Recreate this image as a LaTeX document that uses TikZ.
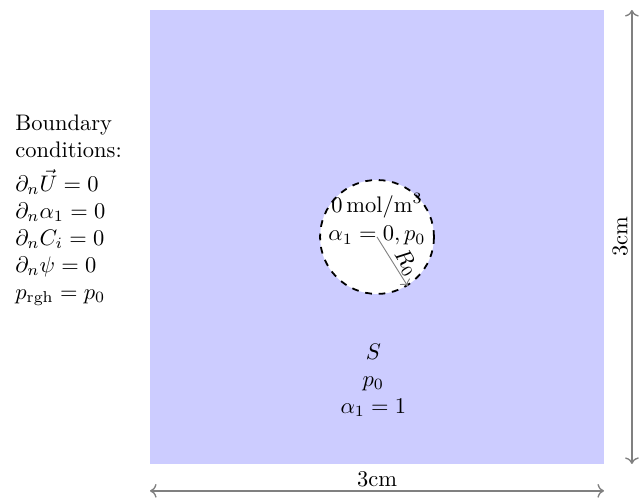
\documentclass[tikz,border=0pt]{standalone}
\usepackage{amsmath,amssymb}
\usepackage{tikz}
\usetikzlibrary{arrows.meta, positioning, calc}
\definecolor{domainfill}{RGB}{204, 204, 255}
\definecolor{dimgray}{RGB}{128, 128, 128}
\tikzset{
  domainbox/.style={
    rectangle, fill=domainfill, draw=none,
    minimum size=7.094cm, inner sep=0pt, outer sep=0pt
  },
  bubble/.style={
    circle, fill=white, draw=black, dashed, thick,
    minimum size=1.78cm, inner sep=0pt
  },
  labeltext/.style={inner sep=0pt, anchor=base},
  bclist/.style={align=left, inner sep=0pt, anchor=north west},
  radiusline/.style={draw=dimgray, ->, line width=0.4pt},
  dimline/.style={draw=dimgray, <->, line width=0.6pt}
}
\begin{document}
\begin{tikzpicture}
  \useasboundingbox (-2.344,-0.531) rectangle (7.672,7.25);

  \node[domainbox, anchor=south west] (domain) at (0,0) {};
  \node[bubble] (bubble) at (domain.center) {};

  % texts inside the bubble
  \node[labeltext] (conc) at ($(bubble.center)+(0,0.39)$) {$0\,\mathrm{mol/m^3}$};
  \node[labeltext] (gasstate) at ($(bubble.center)+(0,-0.06)$) {$\alpha_1 = 0, p_0$};

  \draw[radiusline] (bubble.center) -- (bubble.-58)
    node[pos=0.64, sloped, above, inner sep=0.6pt] (radlabel) {$R_0$};

  % liquid region
  \node[align=center, inner sep=0pt] (liquid) at (3.49,1.31) {$S$\\$p_0$\\$\alpha_1 = 1$};

  % boundary conditions
  \node[bclist] (bcs) at (-2.11,5.46) {
    Boundary\\
    conditions:\\[3pt]
    $\partial_n \vec{U} = 0$\\
    $\partial_n \alpha_1 = 0$\\
    $\partial_n C_i = 0$\\
    $\partial_n \psi = 0$\\
    $p_{\mathrm{rgh}} = p_0$
  };

  % dimensions
  \coordinate (dimBL) at (0,-0.42);
  \coordinate (dimBR) at (7.094,-0.42);
  \coordinate (dimRT) at (7.53,7.094);
  \coordinate (dimRB) at (7.53,0);
  \draw[dimline] (dimBL) -- (dimBR) node[midway, above, inner sep=1.5pt] (widthlabel) {3cm};
  \draw[dimline] (dimRB) -- (dimRT) node[midway, above, sloped, inner sep=1.5pt] (heightlabel) {3cm};
\end{tikzpicture}
\end{document}
